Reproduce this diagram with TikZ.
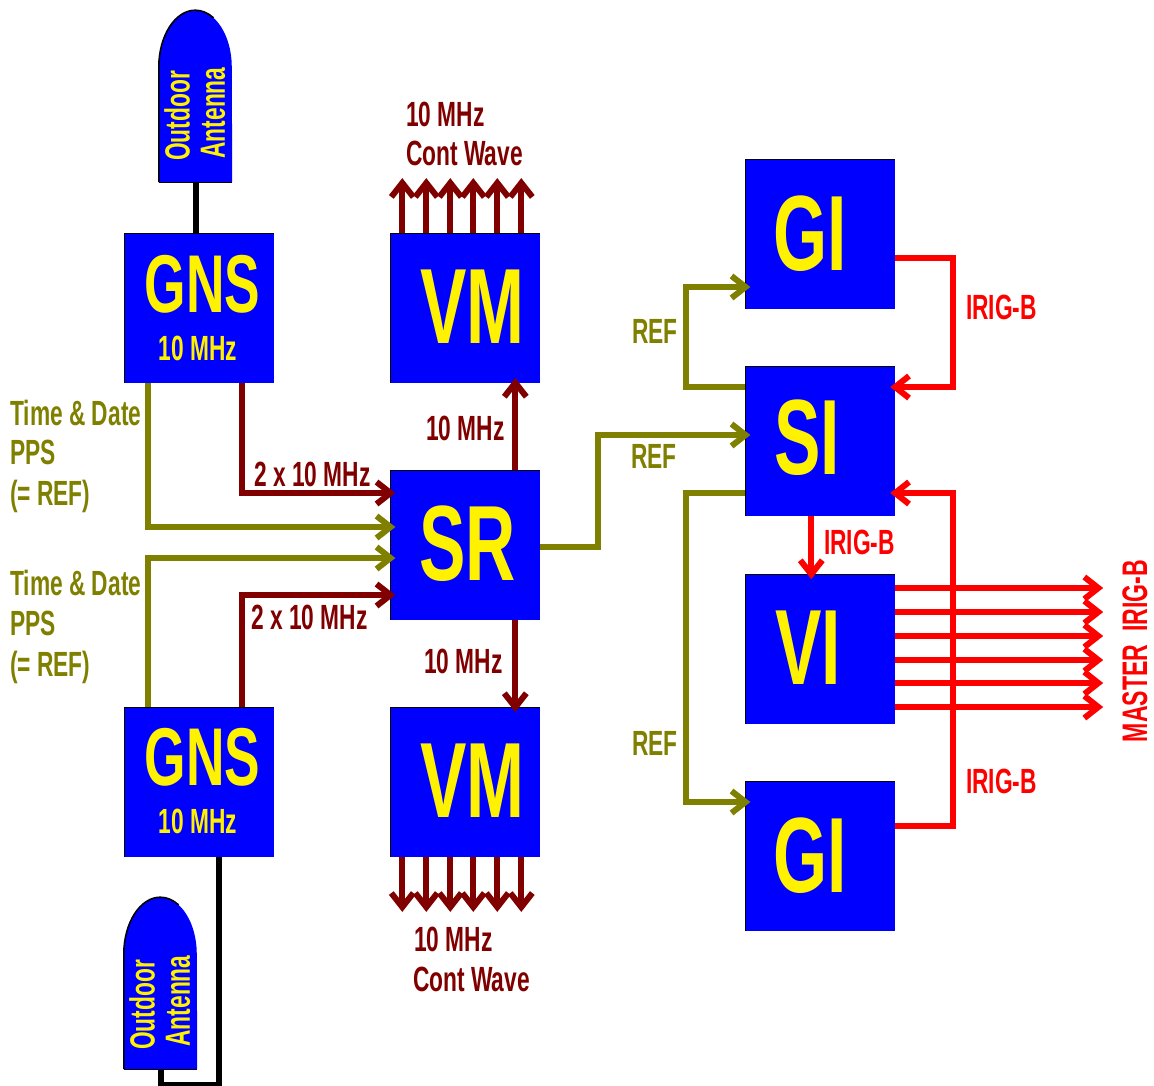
\documentclass[tikz,border=0pt]{standalone}
\usepackage{fontspec}
\usetikzlibrary{arrows.meta}
\newfontfamily\condf{Liberation Sans Bold}[FakeStretch=0.65]
\definecolor{olivec}{HTML}{808000}
\definecolor{maroonc}{HTML}{800000}
\definecolor{boxblue}{HTML}{0000FF}
\tikzset{
  box/.style={fill=boxblue,minimum width=149.4pt,minimum height=149.4pt,inner sep=0pt},
  bigt/.style={text=yellow,anchor=base west,inner sep=0pt,font=\condf\fontsize{107}{107}\selectfont},
  gnst/.style={text=yellow,anchor=base west,inner sep=0pt,font=\condf\fontsize{82}{82}\selectfont},
  lab/.style={anchor=base west,inner sep=0pt,font=\condf\fontsize{35}{35}\selectfont},
  antbox/.style={minimum width=73pt,minimum height=172pt,inner sep=0pt},
  anttxt/.style={text=yellow,rotate=90,inner sep=0pt,font=\condf\fontsize{35}{35}\selectfont},
  conn/.style={line width=6pt,miter limit=10},
  tip/.style={-{Straight Barb[length=14pt,width=22pt,line width=6pt]},shorten >=-5pt},
  tipfree/.style={-{Straight Barb[length=14pt,width=22pt,line width=6pt]}},
  edge/.style={line width=0.6pt,black}
}
\begin{document}
\begin{tikzpicture}[x=1pt,y=-1pt]
\useasboundingbox (0,0) rectangle (1154,1085);
% boxes
\node[box] (gns1) at (199.3,308) {};
\node[box] (vm1) at (465.3,308) {};
\node[box] (sr) at (465.3,545) {};
\node[box] (gns2) at (199.3,782) {};
\node[box] (vm2) at (465.3,782) {};
\node[box] (gi1) at (820.3,234) {};
\node[box] (si) at (820.3,441) {};
\node[box] (vi) at (820.3,649) {};
\node[box] (gi2) at (820.3,856) {};
\foreach \b in {gns1,vm1,sr,gns2,vm2,gi1,si,vi,gi2}
  \draw[edge] (\b.south west) -- (\b.north west) -- (\b.north east);
% antennas
\node[antbox] (ant1) at (195.5,96) {};
\node[antbox] (ant2) at (160.5,983) {};
\foreach \a in {ant1,ant2}{
  \fill[boxblue] (\a.south west) -- ([yshift=115pt]\a.south west)
    arc[x radius=36.5pt,y radius=57pt,start angle=180,end angle=0] -- (\a.south east) -- cycle;
  \draw[black,line width=1.6pt] (\a.south west) -- ([yshift=115pt]\a.south west)
    arc[x radius=36.5pt,y radius=57pt,start angle=180,end angle=60];
  \draw[black,line width=1pt] (\a.south west) -- (\a.south east);
}
% black links
\draw[conn,black] (ant1.south) -- (gns1.north -| ant1.south);
\draw[conn,black] ([xshift=20pt]gns2.south) |- (ant2.south |- 0,1085) -- (ant2.south);
% olive links
\draw[conn,olivec,tip] ([xshift=-51pt]gns1.south) |- ([yshift=18pt]sr.west);
\draw[conn,olivec,tip] ([xshift=-51pt]gns2.north) |- ([yshift=-13pt]sr.west);
\draw[conn,olivec,tip] ([yshift=-2pt]sr.east) -- ++(58,0) |- ([yshift=6pt]si.west);
\draw[conn,olivec,tip] ([yshift=54pt]si.west) -- ++(-59,0) |- ([yshift=-53pt]gi1.west);
\draw[conn,olivec,tip] ([yshift=-52pt]si.west) -- ++(-59,0) |- ([yshift=54pt]gi2.west);
% maroon links
\draw[conn,maroonc,tip] ([xshift=43pt]gns1.south) |- ([yshift=52pt]sr.west);
\draw[conn,maroonc,tip] ([xshift=43pt]gns2.north) |- ([yshift=-50pt]sr.west);
\draw[conn,maroonc,tip] ([xshift=50pt]sr.north) -- ([xshift=50pt]vm1.south);
\draw[conn,maroonc,tip] ([xshift=50pt]sr.south) -- ([xshift=50pt]vm2.north);
\foreach \n/\o in {a/-63,b/-39,c/-15,d/8,e/32,f/56}{
  \coordinate (up\n) at ([xshift=\o pt,yshift=55pt]vm1.north);
  \coordinate (dn\n) at ([xshift=\o pt,yshift=-55pt]vm2.south);
  \draw[conn,maroonc,tipfree] ([xshift=\o pt]vm1.north) -- (up\n);
  \draw[conn,maroonc,tipfree] ([xshift=\o pt]vm2.south) -- (dn\n);
}
% red links
\draw[conn,red,tip] ([yshift=-24pt]gi1.east) -- ++(58,0) |- ([yshift=54pt]si.east);
\draw[conn,red,tip] ([yshift=30pt]gi2.east) -- ++(58,0) |- ([yshift=-52pt]si.east);
\draw[conn,red,tip] ([xshift=-9pt]si.south) -- ([xshift=-9pt]vi.north);
\foreach \n/\o in {a/61,b/37,c/13,d/-11,e/-34,f/-58}{
  \coordinate (out\n) at ([xshift=208pt,yshift=\o pt]vi.east);
  \draw[conn,red,tipfree] ([yshift=\o pt]vi.east) -- (out\n);
}
% box texts
\node[gnst] (tg1) at (144.5,312) {GNS};
\node[lab,text=yellow] (tf1) at (158.5,360) {10 MHz};
\node[gnst] (tg2) at (144.5,785) {GNS};
\node[lab,text=yellow] (tf2) at (158.5,833) {10 MHz};
\node[bigt] (tv1) at (420,343) {VM};
\node[bigt] (tv2) at (420,817) {VM};
\node[bigt] (ts) at (419,580) {SR};
\node[bigt] (tgi1) at (773.5,270) {GI};
\node[bigt] (tsi) at (774,474) {SI};
\node[bigt] (tvi) at (775,684) {VI};
\node[bigt] (tgi2) at (773.5,892) {GI};
% antenna texts
\node[anttxt] (o1) at (177,116) {Outdoor};
\node[anttxt] (n1) at (213,113) {Antenna};
\node[anttxt] (o2) at (142,1005) {Outdoor};
\node[anttxt] (n2) at (178,1001) {Antenna};
% labels
\node[lab,text=maroonc] (l1) at (406,126) {10 MHz};
\node[lab,text=maroonc] (l2) at (406,165) {Cont Wave};
\node[lab,text=maroonc] (l3) at (414,951) {10 MHz};
\node[lab,text=maroonc] (l4) at (413,991) {Cont Wave};
\node[lab,text=maroonc] (l5) at (426,440) {10 MHz};
\node[lab,text=maroonc] (l6) at (424,673) {10 MHz};
\node[lab,text=maroonc] (l7) at (254,486) {2 x 10 MHz};
\node[lab,text=maroonc] (l8) at (251,629) {2 x 10 MHz};
\node[lab,text=olivec] (d1) at (10,425) {Time \& Date};
\node[lab,text=olivec] (d2) at (10,464) {PPS};
\node[lab,text=olivec] (d3) at (10,505) {(= REF)};
\node[lab,text=olivec] (d4) at (10,595) {Time \& Date};
\node[lab,text=olivec] (d5) at (10,635) {PPS};
\node[lab,text=olivec] (d6) at (10,676) {(= REF)};
\node[lab,text=olivec] (r1) at (632,343) {REF};
\node[lab,text=olivec] (r2) at (631,468) {REF};
\node[lab,text=olivec] (r3) at (632,755) {REF};
\node[lab,text=red] (i1) at (966,319) {IRIG-B};
\node[lab,text=red] (i2) at (824,554) {IRIG-B};
\node[lab,text=red] (i3) at (966,793) {IRIG-B};
\node[text=red,rotate=90,inner sep=0pt,font=\condf\fontsize{35.5}{35.5}\selectfont] (m) at (1135,651) {MASTER\ \ IRIG-B};
\end{tikzpicture}
\end{document}
